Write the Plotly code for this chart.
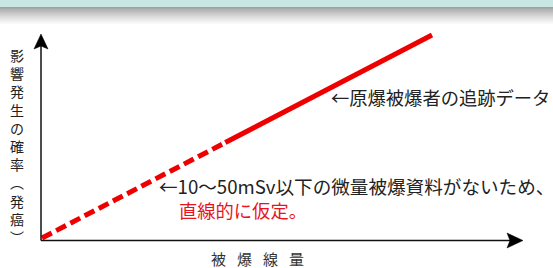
import plotly.graph_objects as go

W, H = 553, 268

# Data (relative units): linear no-threshold model
dose_extrap = [0, 47]      # dashed: assumed linear region (low dose)
risk_extrap = [0, 47]
dose_obs = [47, 100]       # solid: atomic-bomb survivor follow-up data
risk_obs = [47, 100]

y_label = "影響発生の確率︵発癌︶"
x_label = "被爆線量"
note_obs = "←原爆被爆者の追跡データ"
note_low1 = "←10～50mSv以下の微量被爆資料がないため、"
note_low2 = "直線的に仮定。"

# axis mapping: data 0 -> px 42 / 238, data 100 -> px 432 / 35
x0px, x1px = 42, 432
y0px, y1px = 238, 35
sx = (x1px - x0px) / 100.0
sy = (y0px - y1px) / 100.0
xrange = [-x0px / sx, (W - x0px) / sx]
yrange = [-(H - y0px) / sy, y0px / sy]

def px(x):
    return x / W

def py(y):
    return 1 - y / H

FONT = "Noto Sans CJK JP, Noto Sans, sans-serif"
RED = "#ee0000"
TXT = "#222222"

fig = go.Figure()
fig.add_trace(go.Scatter(x=dose_extrap, y=risk_extrap, mode="lines",
                         line=dict(color=RED, width=5, dash="11px,5px"),
                         hoverinfo="skip"))
fig.add_trace(go.Scatter(x=dose_obs, y=risk_obs, mode="lines",
                         line=dict(color=RED, width=5),
                         hoverinfo="skip"))

shapes = []
# top teal band
shapes.append(dict(type="rect", xref="paper", yref="paper", x0=0, x1=1,
                   y0=py(7), y1=py(0), line=dict(width=0), fillcolor="#c8e6e4", layer="below"))
# gray gradient
n = 18
for i in range(n):
    t = i / (n - 1)
    v = int(160 + (255 - 160) * (t ** 0.8))
    shapes.append(dict(type="rect", xref="paper", yref="paper", x0=0, x1=1,
                       y0=py(8 + i + 1), y1=py(7 + i), line=dict(width=0),
                       fillcolor=f"rgb({v},{v},{v})", layer="below"))
# axes lines
shapes.append(dict(type="line", xref="paper", yref="paper", x0=px(41), x1=px(41),
                   y0=py(240.5), y1=py(45), line=dict(color="#111", width=1.5)))
shapes.append(dict(type="line", xref="paper", yref="paper", x0=px(41), x1=px(512),
                   y0=py(240.5), y1=py(240.5), line=dict(color="#111", width=1.5)))
# arrowheads
def path(pts):
    return "M" + " L".join(f"{px(a):.5f},{py(b):.5f}" for a, b in pts) + " Z"
shapes.append(dict(type="path", xref="paper", yref="paper",
                   path=path([(41, 34), (48, 49), (41, 46), (34, 49)]),
                   fillcolor="#000", line=dict(color="#000", width=0.5)))
shapes.append(dict(type="path", xref="paper", yref="paper",
                   path=path([(523, 240.5), (507, 248), (510, 240.5), (507, 233)]),
                   fillcolor="#000", line=dict(color="#000", width=0.5)))

ann = []
# y label vertical (one char per line)
ann.append(dict(text="<br>".join(y_label), xref="paper", yref="paper", x=px(17), y=py(146),
                xanchor="center", yanchor="middle", showarrow=False, borderpad=0,
                font=dict(family=FONT, size=14, color=TXT)))
# x label
for i, ch in enumerate(x_label):
    ann.append(dict(text=ch, xref="paper", yref="paper", x=px(218 + i * 26.3), y=py(258.5),
                    xanchor="center", yanchor="middle", showarrow=False, borderpad=0,
                    font=dict(family=FONT, size=15, color="#333333")))
ann.append(dict(text=note_obs, xref="paper", yref="paper", x=px(329), y=py(97),
                xanchor="left", yanchor="middle", showarrow=False,
                font=dict(family=FONT, size=18.3, color=TXT)))
ann.append(dict(text=note_low1, xref="paper", yref="paper", x=px(157), y=py(185),
                xanchor="left", yanchor="middle", showarrow=False,
                font=dict(family=FONT, size=18.6, color=TXT)))
ann.append(dict(text=note_low2, xref="paper", yref="paper", x=px(177), y=py(210),
                xanchor="left", yanchor="middle", showarrow=False,
                font=dict(family=FONT, size=18.3, color="#e8141c")))

fig.update_layout(
    width=W, height=H, margin=dict(l=0, r=0, t=0, b=0),
    paper_bgcolor="white", plot_bgcolor="white", showlegend=False,
    xaxis=dict(range=xrange, visible=False, fixedrange=True),
    yaxis=dict(range=yrange, visible=False, fixedrange=True),
    shapes=shapes, annotations=ann,
)
fig.write_html("out.html", config={"displayModeBar": False},
               post_script="document.body.style.margin='0px';document.body.style.overflow='hidden';")
